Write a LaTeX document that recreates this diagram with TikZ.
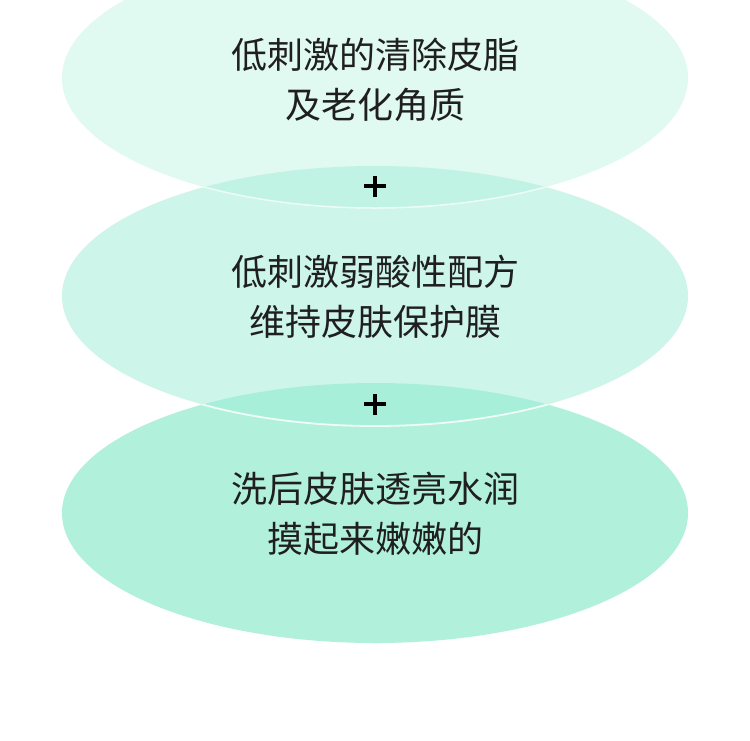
\documentclass[tikz,border=0pt]{standalone}
\usepackage{fontspec}
\setmainfont{Noto Sans CJK SC}
\begin{document}
\begin{tikzpicture}[x=1pt,y=-1pt,
  lbl/.style={align=center,font=\fontsize{36}{50}\selectfont,text=black!88},
  plusline/.style={line width=3.6pt,black}]
\definecolor{cA}{HTML}{E0F9F1}
\definecolor{cB}{HTML}{CDF5E9}
\definecolor{cC}{HTML}{B1F1DC}
\definecolor{cAB}{HTML}{C0F3E4}
\definecolor{cBC}{HTML}{A8EFD9}
\useasboundingbox[fill=white] (0,0) rectangle (750,740);
\def\rx{313}\def\ry{130}
% fills
\fill[cC] (375,513) ellipse [x radius=\rx,y radius=\ry];
\fill[cB] (375,296) ellipse [x radius=\rx,y radius=\ry];
\fill[cA] (375,78) ellipse [x radius=\rx,y radius=\ry];
\begin{scope}
  \clip (375,296) ellipse [x radius=\rx,y radius=\ry];
  \fill[cAB] (375,78) ellipse [x radius=\rx,y radius=\ry];
\end{scope}
\begin{scope}
  \clip (375,513) ellipse [x radius=\rx,y radius=\ry];
  \fill[cBC] (375,296) ellipse [x radius=\rx,y radius=\ry];
\end{scope}
% white rims on lower arcs
\begin{scope}
  \clip (375,296) ellipse [x radius=\rx,y radius=\ry];
  \draw[white,opacity=0.7,line width=1.5pt] (375,78) ellipse [x radius=\rx,y radius=\ry];
\end{scope}
\begin{scope}
  \clip (375,513) ellipse [x radius=\rx,y radius=\ry];
  \draw[white,opacity=0.8,line width=1.8pt] (375,296) ellipse [x radius=\rx,y radius=\ry];
\end{scope}
% texts
\node[lbl] (t1) at (375,80) {低刺激的清除皮脂\\及老化角质};
\node[lbl] (t2) at (375,297) {低刺激弱酸性配方\\维持皮肤保护膜};
\node[lbl] (t3) at (375,514) {洗后皮肤透亮水润\\摸起来嫩嫩的};
% plus signs
\coordinate (p1) at (375,186);
\coordinate (p2) at (375,404);
\foreach \p in {p1,p2}{
  \draw[plusline] ([xshift=-11pt]\p) -- ([xshift=11pt]\p);
  \draw[plusline] ([yshift=-10.5pt]\p) -- ([yshift=10.5pt]\p);
}
\end{tikzpicture}
\end{document}
